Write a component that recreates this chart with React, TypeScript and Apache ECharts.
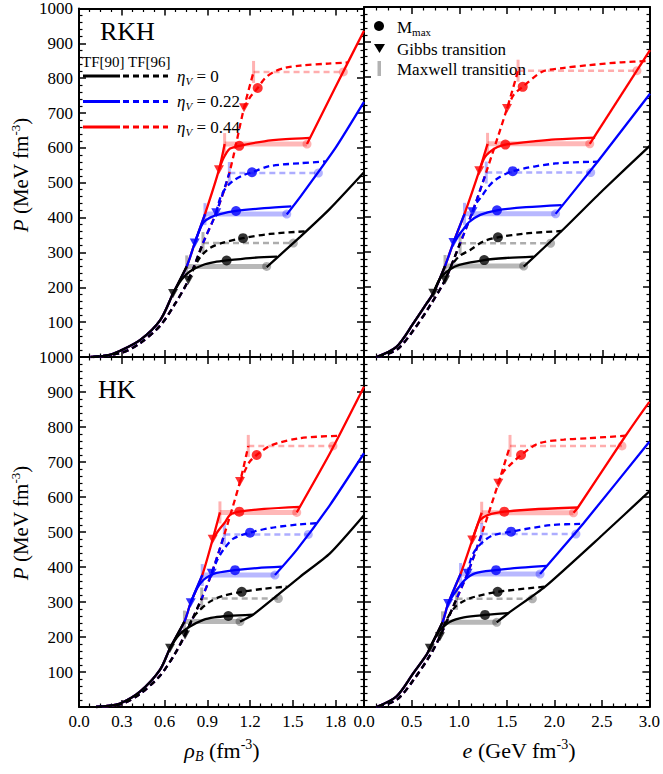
import React, { useEffect, useRef } from "react";
import * as echarts from "echarts";

// ---------------- data ----------------
// Each curve: [x, P]; x = rho_B (fm^-3) for the left column, e (GeV fm^-3) for the right column.
// Colour index: 0 -> eta_V = 0, 1 -> eta_V = 0.22, 2 -> eta_V = 0.44
// Maxwell entries: [x start (hadron side), x end (quark side), P]

// ---- RKH, rho_B ----
const rkhRhoHad90 = [[0.08, 0], [0.2, 5], [0.29, 18], [0.43, 49], [0.57, 106], [0.66, 182], [0.756, 260], [0.812, 327], [0.884, 410], [0.982, 537], [1.022, 611]];
const rkhRhoHad96 = [[0.1, 0], [0.3, 12], [0.43, 40], [0.57, 90], [0.67, 150], [0.767, 220], [0.87, 327], [0.963, 414], [1.055, 528], [1.158, 715], [1.225, 818]];
const rkhRhoGibbs90 = [[0.66, 182], [0.812, 327], [0.982, 537]];
const rkhRhoGibbs96 = [[0.767, 220], [0.963, 414], [1.158, 715]];
const rkhRhoMmax90 = [[1.036, 277], [1.102, 419], [1.125, 606]];
const rkhRhoMmax96 = [[1.151, 341], [1.214, 530], [1.254, 772]];
const rkhRhoMaxwell90 = [[0.756, 1.317, 260], [0.884, 1.458, 410], [1.022, 1.6, 611]];
const rkhRhoMaxwell96 = [[0.87, 1.504, 327], [1.055, 1.68, 528], [1.225, 1.855, 818]];
const rkhRhoMix90 = [
  [[0.66, 182], [0.72, 222], [0.78, 246], [0.87, 264], [0.95, 272], [1.036, 277], [1.2, 284], [1.39, 288]],
  [[0.812, 327], [0.84, 358], [0.873, 386], [0.92, 400], [0.99, 410], [1.102, 419], [1.3, 427], [1.49, 432]],
  [[0.982, 537], [1.01, 567], [1.035, 586], [1.06, 598], [1.125, 606], [1.3, 619], [1.45, 625], [1.62, 629]],
];
const rkhRhoMix96 = [
  [[0.767, 220], [0.8, 250], [0.84, 280], [0.87, 296], [0.92, 313], [1.0, 327], [1.151, 341], [1.34, 353], [1.6, 361]],
  [[0.963, 414], [0.99, 455], [1.03, 485], [1.083, 506], [1.15, 521], [1.214, 530], [1.34, 548], [1.55, 556], [1.73, 561]],
  [[1.158, 715], [1.2, 745], [1.254, 772], [1.305, 800], [1.366, 818], [1.45, 830], [1.551, 836], [1.75, 842], [1.885, 845]],
];
const rkhRhoQuark = [
  [[1.317, 258], [1.55, 344], [1.76, 425], [2.0, 530]],
  [[1.458, 409], [1.55, 458], [1.8, 600], [2.0, 732]],
  [[1.6, 611], [1.8, 775], [2.0, 936]],
];

// ---- RKH, e ----
const rkhEHad90 = [[0.13, 0], [0.34, 29], [0.517, 96], [0.657, 153], [0.727, 182], [0.85, 260], [0.938, 327], [1.054, 409], [1.209, 532], [1.296, 609]];
const rkhEHad96 = [[0.15, 0], [0.35, 22], [0.52, 77], [0.7, 150], [0.85, 220], [1.008, 325], [1.138, 415], [1.282, 528], [1.5, 710], [1.616, 818]];
const rkhEGibbs90 = [[0.727, 182], [0.938, 327], [1.209, 532]];
const rkhEGibbs96 = [[0.85, 220], [1.138, 415], [1.5, 710]];
const rkhEMmax90 = [[1.261, 277], [1.395, 419], [1.483, 607]];
const rkhEMmax96 = [[1.405, 342], [1.56, 531], [1.665, 772]];
const rkhEMaxwell90 = [[0.85, 1.675, 260], [1.054, 2.01, 409], [1.296, 2.368, 609]];
const rkhEMaxwell96 = [[1.008, 1.957, 325], [1.282, 2.378, 527], [1.616, 2.863, 818]];
const rkhEMix90 = [
  [[0.727, 182], [0.8, 225], [0.9, 250], [1.0, 263], [1.261, 277], [1.5, 283], [1.78, 287]],
  [[0.938, 327], [1.0, 350], [1.043, 365], [1.1, 385], [1.219, 406], [1.395, 419], [1.7, 428], [2.073, 434]],
  [[1.209, 532], [1.24, 555], [1.27, 572], [1.33, 588], [1.4, 600], [1.483, 607], [1.8, 617], [2.01, 622], [2.424, 627]],
];
const rkhEMix96 = [
  [[0.85, 220], [0.92, 262], [1.0, 288], [1.114, 306], [1.25, 330], [1.405, 342], [1.7, 353], [2.073, 360]],
  [[1.138, 415], [1.18, 440], [1.237, 460], [1.3, 485], [1.377, 506], [1.56, 531], [2.01, 553], [2.45, 558]],
  [[1.5, 710], [1.57, 749], [1.665, 772], [1.869, 815], [2.1, 826], [2.361, 834], [2.7, 842], [3.0, 846]],
];
const rkhEQuark = [
  [[1.675, 258], [2.073, 360], [2.5, 475], [3.0, 604]],
  [[2.01, 409], [2.45, 558], [3.0, 752]],
  [[2.368, 609], [3.0, 877]],
];

// ---- HK, rho_B ----
const hkRhoHad90 = [[0.12, 0], [0.2, 3], [0.288, 10], [0.428, 44], [0.568, 106], [0.639, 168], [0.74, 244], [0.784, 298], [0.865, 377], [0.938, 479], [0.989, 556]];
const hkRhoHad96 = [[0.12, 0], [0.3, 9], [0.43, 38], [0.57, 90], [0.67, 150], [0.744, 206], [0.861, 310], [0.931, 382], [1.02, 493], [1.13, 644], [1.188, 746]];
const hkRhoGibbs90 = [[0.639, 168], [0.784, 298], [0.938, 479]];
const hkRhoGibbs96 = [[0.744, 206], [0.931, 382], [1.13, 644]];
const hkRhoMmax90 = [[1.048, 260], [1.095, 391], [1.125, 558]];
const hkRhoMmax96 = [[1.142, 329], [1.2, 498], [1.247, 720]];
const hkRhoMaxwell90 = [[0.74, 1.13, 244], [0.865, 1.375, 377], [0.989, 1.528, 556]];
const hkRhoMaxwell96 = [[0.861, 1.399, 310], [1.02, 1.609, 493], [1.188, 1.782, 746]];
const hkRhoMix90 = [
  [[0.639, 168], [0.7, 205], [0.779, 230], [0.873, 249], [0.95, 256], [1.048, 260], [1.223, 264]],
  [[0.784, 298], [0.83, 340], [0.873, 363], [0.92, 376], [0.966, 383], [1.095, 391], [1.25, 397], [1.424, 401]],
  [[0.938, 479], [0.98, 505], [1.025, 528], [1.06, 549], [1.125, 558], [1.3, 566], [1.551, 572]],
];
const hkRhoMix96 = [
  [[0.744, 206], [0.78, 240], [0.825, 268], [0.919, 301], [1.0, 316], [1.142, 329], [1.3, 338], [1.458, 344]],
  [[0.931, 382], [0.97, 420], [1.013, 449], [1.083, 481], [1.2, 498], [1.35, 512], [1.551, 522], [1.666, 525]],
  [[1.13, 644], [1.17, 680], [1.2, 702], [1.247, 720], [1.35, 748], [1.551, 768], [1.824, 775]],
];
const hkRhoQuark = [
  [[1.13, 244], [1.223, 264], [1.551, 372], [1.761, 439], [2.0, 548]],
  [[1.375, 377], [1.528, 449], [1.761, 577], [2.0, 725]],
  [[1.528, 556], [1.761, 725], [2.0, 915]],
];

// ---- HK, e ----
const hkEHad90 = [[0.13, 0], [0.34, 30], [0.517, 96], [0.657, 149], [0.692, 168], [0.825, 242], [0.885, 296], [1.015, 380], [1.138, 477], [1.237, 555]];
const hkEHad96 = [[0.15, 0], [0.35, 22], [0.52, 77], [0.7, 150], [0.798, 201], [0.973, 309], [1.089, 382], [1.237, 494], [1.412, 639], [1.535, 746]];
const hkEGibbs90 = [[0.692, 168], [0.885, 296], [1.138, 477]];
const hkEGibbs96 = [[0.798, 201], [1.089, 382], [1.412, 639]];
const hkEMmax90 = [[1.272, 263], [1.388, 391], [1.475, 558]];
const hkEMmax96 = [[1.405, 329], [1.546, 501], [1.651, 720]];
const hkEMaxwell90 = [[0.825, 1.395, 242], [1.015, 1.851, 380], [1.237, 2.202, 555]];
const hkEMaxwell96 = [[0.973, 1.77, 309], [1.237, 2.228, 494], [1.535, 2.712, 746]];
const hkEMix90 = [
  [[0.692, 168], [0.75, 200], [0.8, 220], [0.9, 243], [1.05, 256], [1.272, 263], [1.517, 268]],
  [[0.885, 296], [0.92, 312], [0.956, 327], [1.061, 363], [1.166, 382], [1.388, 391], [1.65, 398], [1.922, 403]],
  [[1.138, 477], [1.18, 510], [1.219, 534], [1.307, 549], [1.475, 558], [1.8, 565], [2.249, 570]],
];
const hkEMix96 = [
  [[0.798, 201], [0.86, 245], [0.956, 285], [1.05, 303], [1.166, 315], [1.405, 329], [1.904, 344]],
  [[1.089, 382], [1.12, 420], [1.17, 448], [1.25, 472], [1.35, 490], [1.546, 501], [1.977, 520], [2.308, 523]],
  [[1.412, 639], [1.46, 670], [1.553, 696], [1.651, 720], [1.834, 753], [2.1, 764], [2.361, 768], [2.75, 775]],
];
const hkEQuark = [
  [[1.395, 242], [1.517, 268], [1.904, 344], [2.5, 490], [3.0, 616]],
  [[1.851, 380], [1.922, 403], [2.308, 525], [3.0, 758]],
  [[2.202, 555], [2.249, 570], [2.75, 775], [3.0, 872]],
];

// axis ticks
const RHO_TICKS = { min: 0, max: 2, interval: 0.3 };
const E_TICKS = { min: 0, max: 3, interval: 0.5 };
const P_TICKS = { min: 0, max: 1000, interval: 100 };
const ETA_VALUES = ["0", "0.22", "0.44"];
const PANEL_NAMES = ["RKH", "HK"];

// ---------------- styling ----------------
const FONT = "Liberation Serif";
const COLORS = ["#000000", "#0000ff", "#ff0000"];

type P = number[];
interface Panel {
  had90: P[]; had96: P[];
  gibbs90: P[]; gibbs96: P[];
  mmax90: P[]; mmax96: P[];
  mw90: P[]; mw96: P[];
  mix90: P[][]; mix96: P[][]; quark: P[][];
}

const PANELS: Panel[] = [
  { had90: rkhRhoHad90, had96: rkhRhoHad96, gibbs90: rkhRhoGibbs90, gibbs96: rkhRhoGibbs96, mmax90: rkhRhoMmax90, mmax96: rkhRhoMmax96, mw90: rkhRhoMaxwell90, mw96: rkhRhoMaxwell96, mix90: rkhRhoMix90, mix96: rkhRhoMix96, quark: rkhRhoQuark },
  { had90: rkhEHad90, had96: rkhEHad96, gibbs90: rkhEGibbs90, gibbs96: rkhEGibbs96, mmax90: rkhEMmax90, mmax96: rkhEMmax96, mw90: rkhEMaxwell90, mw96: rkhEMaxwell96, mix90: rkhEMix90, mix96: rkhEMix96, quark: rkhEQuark },
  { had90: hkRhoHad90, had96: hkRhoHad96, gibbs90: hkRhoGibbs90, gibbs96: hkRhoGibbs96, mmax90: hkRhoMmax90, mmax96: hkRhoMmax96, mw90: hkRhoMaxwell90, mw96: hkRhoMaxwell96, mix90: hkRhoMix90, mix96: hkRhoMix96, quark: hkRhoQuark },
  { had90: hkEHad90, had96: hkEHad96, gibbs90: hkEGibbs90, gibbs96: hkEGibbs96, mmax90: hkEMmax90, mmax96: hkEMmax96, mw90: hkEMaxwell90, mw96: hkEMaxwell96, mix90: hkEMix90, mix96: hkEMix96, quark: hkEQuark },
];

const DASH = [6, 4];

function panelSeries(p: Panel, gi: number): any[] {
  const s: any[] = [];
  const ax = { xAxisIndex: gi * 2, yAxisIndex: gi * 2, silent: true };
  for (const c of [2, 1, 0]) {
    const col = COLORS[c];
    const zl = 3 + (2 - c);
    const m90 = p.mw90[c];
    const m96 = p.mw96[c];
    // Maxwell constructions (translucent)
    s.push({ type: "line", ...ax, data: [[m90[0], m90[2]], [m90[1], m90[2]]], symbol: "none", lineStyle: { color: col, width: 5, opacity: 0.28 }, z: 1 });
    s.push({ type: "line", ...ax, data: [[m96[0], m96[2]], [m96[1], m96[2]]], symbol: "none", lineStyle: { color: col, width: 2.5, opacity: 0.32, type: DASH }, z: 1 });
    s.push({ type: "scatter", ...ax, data: [[m90[0], m90[2]], [m96[0], m96[2]]], symbol: "rect", symbolSize: [3, 22], itemStyle: { color: col, opacity: 0.3 }, z: 1 });
    s.push({ type: "scatter", ...ax, data: [[m90[1], m90[2]], [m96[1], m96[2]]], symbol: "circle", symbolSize: 9, itemStyle: { color: col, opacity: 0.3 }, z: 1 });
    // hadronic branches up to Maxwell start
    const h90 = p.had90.filter((q) => q[0] <= m90[0] + 1e-6);
    const h96 = p.had96.filter((q) => q[0] <= m96[0] + 1e-6);
    s.push({ type: "line", ...ax, data: h90, symbol: "none", smooth: 0.3, lineStyle: { color: col, width: 2.3 }, z: zl });
    s.push({ type: "line", ...ax, data: h96, symbol: "none", smooth: 0.3, lineStyle: { color: col, width: 2.3, type: DASH }, z: zl });
    // Gibbs mixed-phase curves
    s.push({ type: "line", ...ax, data: p.mix90[c], symbol: "none", smooth: 0.3, lineStyle: { color: col, width: 2.3 }, z: zl });
    s.push({ type: "line", ...ax, data: p.mix96[c], symbol: "none", smooth: 0.3, lineStyle: { color: col, width: 2.3, type: DASH }, z: zl });
    // quark branch
    s.push({ type: "line", ...ax, data: p.quark[c], symbol: "none", smooth: 0.2, lineStyle: { color: col, width: 2.3 }, z: zl });
    // markers
    s.push({ type: "scatter", ...ax, data: [p.gibbs90[c], p.gibbs96[c]], symbol: "triangle", symbolRotate: 180, symbolSize: [10, 9], itemStyle: { color: col }, z: 10 });
    s.push({ type: "scatter", ...ax, data: [p.mmax90[c], p.mmax96[c]], symbol: "circle", symbolSize: 10, itemStyle: { color: col }, z: 10 });
  }
  return s;
}

const GRIDS = [
  { left: 79, top: 7, width: 285, height: 350 },
  { left: 364, top: 7, width: 286, height: 350 },
  { left: 79, top: 357, width: 285, height: 350 },
  { left: 364, top: 357, width: 286, height: 350 },
];

function mkAxis(gi: number, ticks: any, pos: string, showLabel: boolean, split: number, fmt: (v: number) => string) {
  return {
    type: "value",
    gridIndex: gi,
    position: pos,
    min: ticks.min,
    max: ticks.max,
    interval: ticks.interval,
    axisLine: { show: true, onZero: false, lineStyle: { color: "#000", width: 2 } },
    axisTick: { show: true, inside: true, length: 7, lineStyle: { color: "#000", width: 1.5 } },
    minorTick: { show: true, splitNumber: split, length: 3.5, lineStyle: { color: "#000", width: 1.2 } },
    splitLine: { show: false },
    minorSplitLine: { show: false },
    axisLabel: { show: showLabel, margin: 6, color: "#000", fontFamily: FONT, fontSize: 17, formatter: fmt },
  };
}

function rich(size: number) {
  const small = Math.round(size * 0.62);
  return {
    i: { fontFamily: FONT, fontStyle: "italic", fontSize: size, fill: "#000" },
    n: { fontFamily: FONT, fontSize: size, fill: "#000" },
    sup: { fontFamily: FONT, fontSize: small, fill: "#000", padding: [0, 0, Math.round(size * 0.55), 0] },
    sub: { fontFamily: FONT, fontStyle: "italic", fontSize: small, fill: "#000", padding: [Math.round(size * 0.55), 0, 0, 0] },
    subr: { fontFamily: FONT, fontSize: small, fill: "#000", padding: [Math.round(size * 0.55), 0, 0, 0] },
  };
}

function buildOption() {
  const rhoFmt = (v: number) => (v > 1.95 ? "" : v.toFixed(1));
  const eFmt = (v: number) => v.toFixed(1);
  const pFmt = (v: number) => (v === 0 ? "" : String(v));
  const xAxis: any[] = [];
  const yAxis: any[] = [];
  for (let gi = 0; gi < 4; gi++) {
    const isRho = gi % 2 === 0;
    const isBottom = gi >= 2;
    const t = isRho ? RHO_TICKS : E_TICKS;
    const f = isRho ? rhoFmt : eFmt;
    xAxis.push(mkAxis(gi, t, "bottom", isBottom, 4, f));
    xAxis.push(mkAxis(gi, t, "top", false, 4, f));
    yAxis.push(mkAxis(gi, P_TICKS, "left", isRho, 5, pFmt));
    yAxis.push(mkAxis(gi, P_TICKS, "right", false, 5, pFmt));
  }
  const series: any[] = [];
  PANELS.forEach((p, gi) => series.push(...panelSeries(p, gi)));

  const graphic: any[] = [];
  graphic.push({ type: "text", x: 100, y: 31, style: { text: PANEL_NAMES[0], fontFamily: FONT, fontSize: 26, fill: "#000", verticalAlign: "middle" } });
  graphic.push({ type: "text", x: 98, y: 389, style: { text: PANEL_NAMES[1], fontFamily: FONT, fontSize: 26, fill: "#000", verticalAlign: "middle" } });
  // left legend
  graphic.push({ type: "text", x: 82, y: 62, style: { text: "TF[90] TF[96]", fontFamily: FONT, fontSize: 15, fill: "#000", verticalAlign: "middle" } });
  const legY = [76, 101.5, 127];
  ETA_VALUES.forEach((eta, c) => {
    const y = legY[c];
    graphic.push({ type: "line", shape: { x1: 83, y1: y, x2: 120, y2: y }, style: { stroke: COLORS[c], lineWidth: 3 } });
    graphic.push({ type: "line", shape: { x1: 123, y1: y, x2: 168, y2: y }, style: { stroke: COLORS[c], lineWidth: 3, lineDash: DASH } });
    graphic.push({ type: "text", x: 177, y: y, style: { text: `{i|η}{sub|V}{n| = ${eta}}`, rich: rich(17), verticalAlign: "middle" } });
  });
  // right legend
  graphic.push({ type: "circle", shape: { cx: 379, cy: 26, r: 5 }, style: { fill: "#000" } });
  graphic.push({ type: "text", x: 397, y: 27, style: { text: "{n|M}{subr|max}", rich: rich(17), verticalAlign: "middle" } });
  graphic.push({ type: "polygon", shape: { points: [[374, 44], [385, 44], [379.5, 53]] }, style: { fill: "#000" } });
  graphic.push({ type: "text", x: 397, y: 49, style: { text: "Gibbs transition", fontFamily: FONT, fontSize: 17, fill: "#000", verticalAlign: "middle" } });
  graphic.push({ type: "rect", shape: { x: 377.5, y: 61, width: 3.5, height: 15 }, style: { fill: "rgba(0,0,0,0.3)" } });
  graphic.push({ type: "text", x: 397, y: 69, style: { text: "Maxwell transition", fontFamily: FONT, fontSize: 17, fill: "#000", verticalAlign: "middle" } });
  // axis titles
  [175, 523].forEach((yc) => {
    graphic.push({ type: "text", x: 21, y: yc, rotation: Math.PI / 2, style: { text: "{i|P}{n| (MeV fm}{sup|-3}{n|)}", rich: rich(21), align: "center", verticalAlign: "middle" } });
  });
  graphic.push({ type: "text", x: 222, y: 750, style: { text: "{i|ρ}{sub|B}{n| (fm}{sup|-3}{n|)}", rich: rich(22), align: "center", verticalAlign: "middle" } });
  graphic.push({ type: "text", x: 519, y: 750, style: { text: "{i|e}{n| (GeV fm}{sup|-3}{n|)}", rich: rich(22), align: "center", verticalAlign: "middle" } });

  return {
    animation: false,
    backgroundColor: "#ffffff",
    textStyle: { fontFamily: FONT },
    grid: GRIDS,
    xAxis,
    yAxis,
    series,
    graphic,
  };
}

export default function App() {
  const ref = useRef<HTMLDivElement>(null);
  useEffect(() => {
    if (!ref.current) return;
    const chart = echarts.init(ref.current, null, { renderer: "svg" });
    chart.setOption(buildOption() as any);
    return () => chart.dispose();
  }, []);
  return <div ref={ref} style={{ position: "absolute", left: 0, top: 0, width: 663, height: 774, background: "#fff" }} />;
}
